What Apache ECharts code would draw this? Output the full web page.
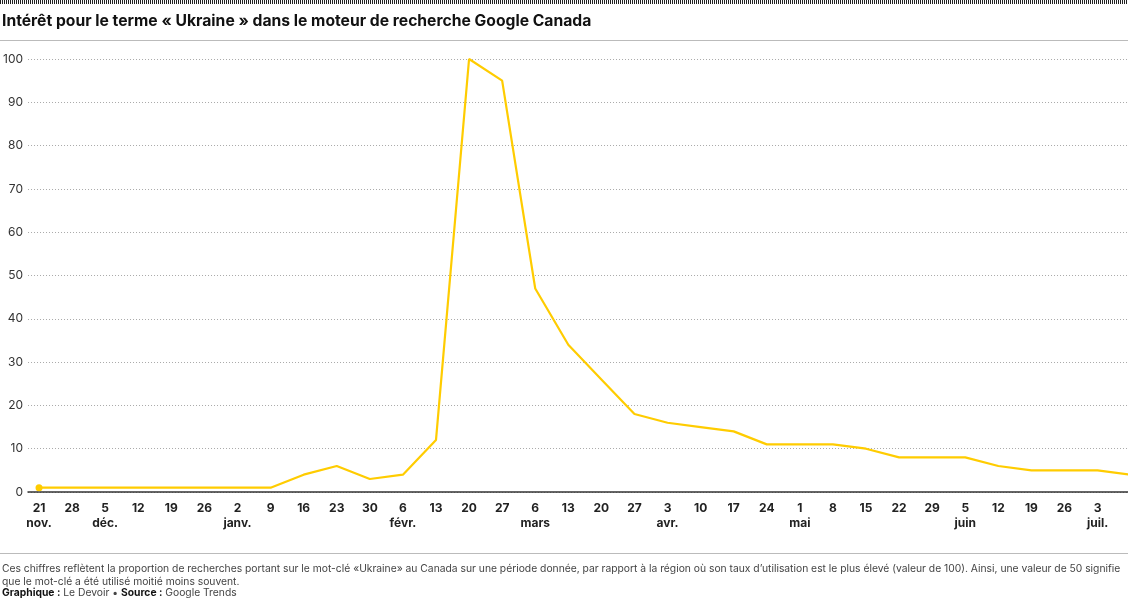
<!DOCTYPE html>
<html><head><meta charset="utf-8">
<script src="https://cdn.jsdelivr.net/npm/echarts@6/dist/echarts.min.js"></script>
<style>
html,body{margin:0;padding:0;background:#fff;overflow:hidden;width:1128px;height:600px;}
#stripe{position:absolute;left:0;top:0;width:1128px;height:4px;z-index:10;background:repeating-linear-gradient(90deg,#222 0px,#222 1px,#fff 1px,#fff 2px);}
#chart{position:absolute;left:0;top:0;width:1128px;height:600px;}
</style></head>
<body>
<div id="chart"></div>
<div id="stripe"></div>
<script>
const dayLabels = ['21','28','5','12','19','26','2','9','16','23','30','6','13','20','27','6','13','20','27','3','10','17','24','1','8','15','22','29','5','12','19','26','3','10'];
const monthLabels = ['nov.','','déc.','','','','janv.','','','','','févr.','','','','mars','','','','avr.','','','','mai','','','','','juin','','','','juil.',''];
const interest = [1,1,1,1,1,1,1,1,4,6,3,4,12,100,95,47,34,26,18,16,15,14,11,11,11,10,8,8,8,6,5,5,5,4];
const yTicks = [0,10,20,30,40,50,60,70,80,90,100];

const fontFam = 'Inter, Roboto, "Noto Sans", sans-serif';
const chart = echarts.init(document.getElementById('chart'), null, {renderer:'canvas'});
const idx = interest.map((v,i)=>i);
chart.setOption({
  animation:false,
  textStyle:{fontFamily:fontFam},
  grid:{left:28,right:0,top:59,bottom:108,containLabel:false},
  xAxis:{
    type:'value', min:-0.333, max:32.92,
    axisLine:{show:true,lineStyle:{color:'#333',width:1.5}},
    axisTick:{show:false},
    splitLine:{show:false},
    axisLabel:{
      customValues: idx,
      margin:9,
      formatter:(v)=>{const i=Math.round(v);const m=monthLabels[i];return '{d|'+dayLabels[i]+'}'+(m?'\n{m|'+m+'}':'');},
      rich:{
        d:{fontWeight:'bold',fontSize:12,color:'#222',fontFamily:fontFam,lineHeight:15},
        m:{fontWeight:'bold',fontSize:12,color:'#222',fontFamily:fontFam,lineHeight:15}
      },
      verticalAlign:'top'
    }
  },
  yAxis:{
    type:'value', min:0, max:100, interval:10,
    axisLine:{show:false}, axisTick:{show:false},
    axisLabel:{customValues:yTicks, margin:5, color:'#333', fontSize:12, fontFamily:fontFam},
    splitLine:{show:true,lineStyle:{color:'#aaa',type:[1,2],width:1}}
  },
  series:[{
    type:'line',
    data: interest.map((v,i)=>[i,v]),
    showSymbol:true,
    symbol:'circle',
    symbolSize:(val,p)=>p.dataIndex===0?7:0,
    itemStyle:{color:'#FFCC00'},
    lineStyle:{color:'#FFCC00',width:2.2},
    clip:true,
    z:5
  }],
  graphic:[
    {type:'text',left:2,top:13,style:{text:'Intérêt pour le terme « Ukraine » dans le moteur de recherche Google Canada',fontSize:15.7,fontWeight:'bold',fill:'#111',fontFamily:fontFam}},
    {type:'rect',left:0,top:40,shape:{width:1128,height:1},style:{fill:'#bbb'}},
    {type:'rect',left:0,top:553,shape:{width:1128,height:1},style:{fill:'#bbb'}},
    {type:'text',left:2,top:562,style:{
      text:'Ces chiffres reflètent la proportion de recherches portant sur le mot-clé «Ukraine» au Canada sur une période donnée, par rapport à la région où son taux d’utilisation est le plus élevé (valeur de 100). Ainsi, une valeur de 50 signifie\nque le mot-clé a été utilisé moitié moins souvent.',
      fontSize:10.3,lineHeight:13,fill:'#444',fontFamily:fontFam}},
    {type:'text',left:2,top:588,style:{
      text:'{b|Graphique :} Le Devoir • {b|Source :} Google Trends',
      fontSize:10.3,fill:'#444',fontFamily:fontFam,
      rich:{b:{fontWeight:'bold',fill:'#111',fontSize:10.3,fontFamily:fontFam}}}}
  ]
});
</script>
</body></html>
